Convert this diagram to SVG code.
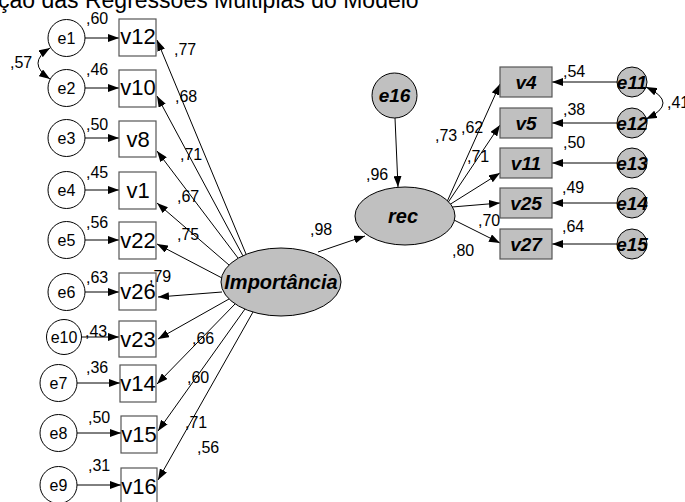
<svg xmlns="http://www.w3.org/2000/svg" width="685" height="502" viewBox="0 0 685 502">
<defs>
<marker id="ah" viewBox="0 0 11 8" refX="11" refY="4" markerWidth="11" markerHeight="8" markerUnits="userSpaceOnUse" orient="auto-start-reverse">
<path d="M0,0 L11,4 L0,8 Z" fill="#000"/>
</marker>
<style>
.e{fill:#fff;stroke:#000;stroke-width:1}
.v{fill:#fff;stroke:#555;stroke-width:1.2}
.g{fill:#c0c0c0;stroke:#000;stroke-width:1}
.gb{fill:#c0c0c0;stroke:#555;stroke-width:1.2}
.et{font-family:"Liberation Sans",Arial,sans-serif;font-size:16px;text-anchor:middle;fill:#000}
.vt{font-family:"Liberation Sans",Arial,sans-serif;font-size:22px;text-anchor:middle;fill:#000}
.bt{font-family:"Liberation Sans",Arial,sans-serif;font-size:19px;font-weight:bold;font-style:italic;text-anchor:middle;fill:#000}
.lt{font-family:"Liberation Sans",Arial,sans-serif;font-size:16px;fill:#000}
.c{fill:none;stroke:#000;stroke-width:1;marker-end:url(#ah)}
.d{fill:none;stroke:#000;stroke-width:1;marker-start:url(#ah);marker-end:url(#ah)}
</style>
</defs>
<rect width="685" height="502" fill="#fff"/>
<text x="-2" y="7.5" class="lt" style="font-size:23px">ção das Regressões Múltiplas do Modelo</text>

<g id="connectors">
<path class="c" d="M85,38 L119,38"/>
<path class="c" d="M85,88 L119,88"/>
<path class="c" d="M85,138 L119,138"/>
<path class="c" d="M85,190 L119,190"/>
<path class="c" d="M85,240 L119,240"/>
<path class="c" d="M85,292 L119,292"/>
<path class="c" d="M81,337 L119,337"/>
<path class="c" d="M77,383 L120,383"/>
<path class="c" d="M77,433 L121,433"/>
<path class="c" d="M77,485 L121,485"/>
<path class="d" d="M50,48 Q26,63 50,79"/>
<path class="c" d="M246,254 L157,40"/>
<path class="c" d="M243,256 L157,96"/>
<path class="c" d="M238,258 L157,151"/>
<path class="c" d="M229,265 L157,203"/>
<path class="c" d="M222,278 L157,244"/>
<path class="c" d="M222,292 L158,297"/>
<path class="c" d="M229,299 L158,339"/>
<path class="c" d="M235,304 L157,384"/>
<path class="c" d="M245,309 L158,431"/>
<path class="c" d="M253,312 L158,480"/>
<path class="c" d="M318,252 L365,236"/>
<path class="c" d="M395,118 L398,187"/>
<path class="c" d="M446,204 L500,84"/>
<path class="c" d="M447,204 L500,125"/>
<path class="c" d="M449,205 L500,173"/>
<path class="c" d="M452,207 L500,203"/>
<path class="c" d="M454,220 L500,243"/>
<path class="c" d="M617,82 L552,82"/>
<path class="c" d="M617,123 L552,123"/>
<path class="c" d="M617,163 L552,163"/>
<path class="c" d="M617,203 L552,203"/>
<path class="c" d="M617,244 L552,244"/>
<path class="d" d="M646,87 Q680,103 646,119"/>
</g>

<g id="e1"><circle class="e" cx="66.5" cy="38" r="18.5"/><text class="et" x="66.5" y="44">e1</text></g>
<g id="e2"><circle class="e" cx="66.5" cy="88" r="18.5"/><text class="et" x="66.5" y="94">e2</text></g>
<g id="e3"><circle class="e" cx="66.5" cy="138" r="18.5"/><text class="et" x="66.5" y="144">e3</text></g>
<g id="e4"><circle class="e" cx="66.5" cy="190" r="18.5"/><text class="et" x="66.5" y="196">e4</text></g>
<g id="e5"><circle class="e" cx="66.5" cy="240" r="18.5"/><text class="et" x="66.5" y="246">e5</text></g>
<g id="e6"><circle class="e" cx="66.5" cy="292" r="18.5"/><text class="et" x="66.5" y="298">e6</text></g>
<g id="e10"><circle class="e" cx="64" cy="337" r="17.5"/><text class="et" x="64" y="343">e10</text></g>
<g id="e7"><circle class="e" cx="58.5" cy="383" r="18.5"/><text class="et" x="58.5" y="389">e7</text></g>
<g id="e8"><circle class="e" cx="58.5" cy="433" r="18.5"/><text class="et" x="58.5" y="439">e8</text></g>
<g id="e9"><circle class="e" cx="58.5" cy="485" r="18.5"/><text class="et" x="58.5" y="491">e9</text></g>

<g id="v12"><rect class="v" x="119" y="19" width="37" height="37"/><text class="vt" x="138" y="44">v12</text></g>
<g id="v10"><rect class="v" x="119" y="70" width="37" height="37"/><text class="vt" x="138" y="95">v10</text></g>
<g id="v8"><rect class="v" x="119" y="121" width="37" height="36"/><text class="vt" x="138" y="147">v8</text></g>
<g id="v1"><rect class="v" x="119" y="172" width="37" height="37"/><text class="vt" x="138" y="198">v1</text></g>
<g id="v22"><rect class="v" x="119" y="222" width="37" height="37"/><text class="vt" x="138" y="248">v22</text></g>
<g id="v26"><rect class="v" x="119" y="273" width="37" height="37"/><text class="vt" x="138" y="299">v26</text></g>
<g id="v23"><rect class="v" x="119" y="321" width="37" height="36"/><text class="vt" x="138" y="347">v23</text></g>
<g id="v14"><rect class="v" x="120" y="365" width="36" height="37"/><text class="vt" x="138" y="391">v14</text></g>
<g id="v15"><rect class="v" x="121" y="416" width="36" height="37"/><text class="vt" x="139" y="442">v15</text></g>
<g id="v16"><rect class="v" x="121" y="468" width="36" height="37"/><text class="vt" x="139" y="494">v16</text></g>

<g id="Importancia"><ellipse class="g" cx="281" cy="282" rx="60" ry="34"/><text class="bt" x="281" y="289" style="font-size:20px">Importância</text></g>
<g id="rec"><ellipse class="g" cx="405" cy="216" rx="50" ry="29"/><text class="bt" x="403" y="223" style="font-size:20px">rec</text></g>
<g id="e16"><circle class="g" cx="394.5" cy="95.5" r="22.5"/><text class="bt" x="394.5" y="102">e16</text></g>

<g id="v4"><rect class="gb" x="500" y="67" width="52" height="30"/><text class="bt" x="526" y="89">v4</text></g>
<g id="v5"><rect class="gb" x="500" y="108" width="52" height="30"/><text class="bt" x="526" y="130">v5</text></g>
<g id="v11"><rect class="gb" x="500" y="148" width="52" height="30"/><text class="bt" x="526" y="170">v11</text></g>
<g id="v25"><rect class="gb" x="500" y="188" width="52" height="30"/><text class="bt" x="526" y="210">v25</text></g>
<g id="v27"><rect class="gb" x="500" y="229" width="52" height="30"/><text class="bt" x="526" y="251">v27</text></g>

<g id="e11"><circle class="g" cx="632" cy="82" r="15"/><text class="bt" x="632" y="89">e11</text></g>
<g id="e12"><circle class="g" cx="632" cy="123" r="15"/><text class="bt" x="632" y="130">e12</text></g>
<g id="e13"><circle class="g" cx="632" cy="163" r="15"/><text class="bt" x="632" y="170">e13</text></g>
<g id="e14"><circle class="g" cx="632" cy="203" r="15"/><text class="bt" x="632" y="210">e14</text></g>
<g id="e15"><circle class="g" cx="632" cy="244" r="15"/><text class="bt" x="632" y="251">e15</text></g>

<g id="labels" class="lt">
<text x="86" y="24">,60</text>
<text x="86" y="75">,46</text>
<text x="86" y="130">,50</text>
<text x="86" y="178">,45</text>
<text x="86" y="228">,56</text>
<text x="86" y="283">,63</text>
<text x="85" y="337">,43</text>
<text x="86" y="373">,36</text>
<text x="88" y="423">,50</text>
<text x="88" y="471">,31</text>
<text x="10" y="68">,57</text>
<text x="174" y="55">,77</text>
<text x="175" y="102">,68</text>
<text x="180" y="160">,71</text>
<text x="177" y="202">,67</text>
<text x="177" y="240">,75</text>
<text x="149" y="282">,79</text>
<text x="192" y="344">,66</text>
<text x="187" y="383">,60</text>
<text x="185" y="428">,71</text>
<text x="197" y="453">,56</text>
<text x="310" y="235">,98</text>
<text x="366" y="180">,96</text>
<text x="435" y="141">,73</text>
<text x="461" y="133">,62</text>
<text x="467" y="162">,71</text>
<text x="478" y="226">,70</text>
<text x="452" y="256">,80</text>
<text x="563" y="77">,54</text>
<text x="563" y="115">,38</text>
<text x="563" y="148">,50</text>
<text x="562" y="193">,49</text>
<text x="562" y="232">,64</text>
<text x="667" y="108">,41</text>
</g>
</svg>
